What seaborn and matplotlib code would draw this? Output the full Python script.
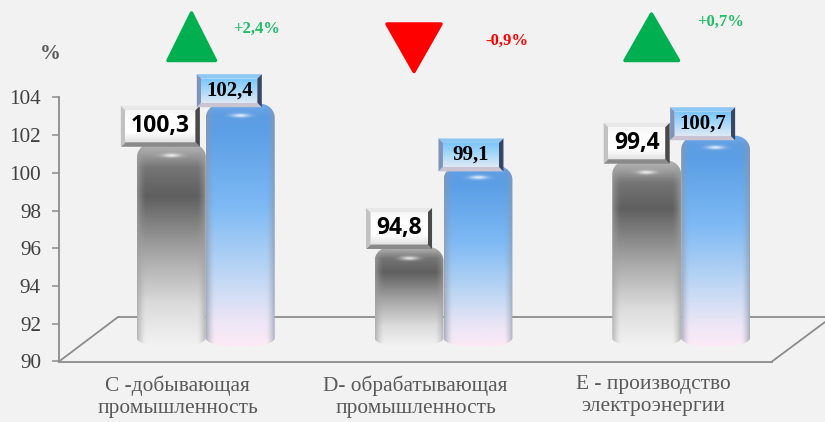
import numpy as np
import pandas as pd
import matplotlib
matplotlib.use("Agg")
import matplotlib.pyplot as plt
import seaborn as sns
from matplotlib.path import Path
from matplotlib.patches import Polygon
from matplotlib.colors import to_rgb

categories = ["С -добывающая\nпромышленность", "D- обрабатывающая\nпромышленность", "Е - производство\nэлектроэнергии"]
series_names = ["prev", "curr"]
prev_values = [100.3, 94.8, 99.4]
curr_values = [102.4, 99.1, 100.7]
prev_labels = ["100,3", "94,8", "99,4"]
curr_labels = ["102,4", "99,1", "100,7"]
delta_labels = ["+2,4%", "-0,9%", "+0,7%"]
y_ticks = [90, 92, 94, 96, 98, 100, 102, 104]

W, H = 825, 422
BG = "#f2f2f2"
AXC = "#8c8c8c"
TXT = "#595959"
SERIF = "Liberation Serif"

sns.set_theme(style="white", rc={"figure.facecolor": BG, "axes.facecolor": BG, "savefig.facecolor": BG})
fig = plt.figure(figsize=(W / 100, H / 100), dpi=100)

def px_axes(x0, x1, ytop, ybot):
    return fig.add_axes([x0 / W, 1 - ybot / H, (x1 - x0) / W, (ybot - ytop) / H])

# frame axis
ax = px_axes(59, 772, 97.5, 361.5)
ax.set_xlim(-0.5, 2.5)
ax.set_ylim(90, 104)
ax.set_yticks(y_ticks)
ax.set_yticklabels([str(v) for v in y_ticks], fontfamily=SERIF, fontsize=15.2, color="#404040")
ax.set_xticks([-0.5, 0.5, 1.5, 2.5])
ax.set_xticklabels([])
ax.set_xticks([0, 1, 2], minor=True)
ax.set_xticklabels(categories, minor=True, fontfamily=SERIF, fontsize=15.4, color=TXT, linespacing=1.2)
ax.tick_params(axis="x", which="minor", length=0, pad=10)
ax.tick_params(axis="x", which="major", length=4, width=1.1, color=AXC, direction="out")
ax.tick_params(axis="y", length=5, width=1.1, color=AXC, direction="out", pad=8, left=True)
for s in ["top", "right"]:
    ax.spines[s].set_visible(False)
for s in ["left", "bottom"]:
    ax.spines[s].set_color(AXC)
    ax.spines[s].set_linewidth(1.3)

# bars sit half way into the floor depth; the axes reach lower so the rounded feet show
px_x = (772 - 59) / 3
px_y = (361.5 - 97.5) / 14
LOW = 90 - 20 / px_y
LIFT = 24
bx = px_axes(59 + 28, 772 + 28, 97.5 - LIFT, 361.5 - LIFT + 20)
bx.patch.set_alpha(0)
df = pd.DataFrame({
    "category": categories * 2,
    "series": [series_names[0]] * 3 + [series_names[1]] * 3,
    "value": prev_values + curr_values,
})
sns.barplot(data=df, x="category", y="value", hue="series", order=categories, hue_order=series_names,
            width=0.58, gap=0, palette=["#808080", "#5b9be0"], legend=False, ax=bx, errorbar=None)
bx.set_ylim(LOW, 104)
bx.set_xlim(-0.5, 2.5)
bx.axis("off")

def stops(t, ts, cols):
    c = np.array([to_rgb(k) for k in cols])
    return np.stack([np.interp(t, ts, c[:, i]) for i in range(3)], axis=-1)

GRAY_T = [0, .05, .12, .26, .55, .8, 1]
GRAY_C = ["#b8b8b8", "#a0a0a0", "#757575", "#5f5f5f", "#a8a8a8", "#dcdcdc", "#f2f2f2"]
BLUE_T = [0, .05, .12, .42, .7, .9, 1]
BLUE_C = ["#6fa8e8", "#5e9de2", "#5c9fe6", "#7db9f4", "#bcd6f4", "#ede6f6", "#fceaf6"]

def draw_bar(patch, ts, cols, edge):
    x0, w, top = patch.get_x(), patch.get_width(), patch.get_height()
    rx, ry = 15 / px_x, 14 / px_y
    brx, bry = 24 / px_x, 8 / px_y
    base = 90 - 8.5 / px_y
    nh, nw = 260, 80
    t = np.linspace(0, 1, nh)[:, None]
    u = np.linspace(-1, 1, nw)[None, :]
    img = stops(np.repeat(t, nw, axis=1), ts, cols)
    shade = np.clip((np.abs(u) - 0.74) / 0.26, 0, 1) ** 1.6
    shade = np.repeat(shade, nh, axis=0)[..., None] * 0.7
    img = img * (1 - shade) + np.array(to_rgb(edge)) * shade
    hpx = (top - base) * px_y
    yy = t * hpx
    xx = u * 35
    glow = np.exp(-((xx / 9) ** 2) - ((yy - 12) / 1.9) ** 2)[..., None] * 0.8
    img = img * (1 - glow) + glow
    im = bx.imshow(img, extent=(x0, x0 + w, base, top), aspect="auto", origin="upper", zorder=3, interpolation="bilinear")
    k = 0.55
    verts = [
        (x0, base + bry), (x0, base + bry * (1 - k)), (x0 + brx * (1 - k), base), (x0 + brx, base),
        (x0 + w - brx, base),
        (x0 + w - brx * (1 - k), base), (x0 + w, base + bry * (1 - k)), (x0 + w, base + bry),
        (x0 + w, top - ry),
        (x0 + w, top - ry * (1 - k)), (x0 + w - rx * (1 - k), top), (x0 + w - rx, top),
        (x0 + rx, top),
        (x0 + rx * (1 - k), top), (x0, top - ry * (1 - k)), (x0, top - ry),
        (x0, base + bry),
    ]
    codes = [Path.MOVETO, Path.CURVE4, Path.CURVE4, Path.CURVE4, Path.LINETO,
             Path.CURVE4, Path.CURVE4, Path.CURVE4, Path.LINETO,
             Path.CURVE4, Path.CURVE4, Path.CURVE4, Path.LINETO,
             Path.CURVE4, Path.CURVE4, Path.CURVE4, Path.CLOSEPOLY]
    im.set_clip_path(Path(verts, codes), transform=bx.transData)
    patch.set_visible(False)

bars = list(bx.patches)
bar_prev, bar_curr = bars[:3], bars[3:6]
for p in bar_curr:
    draw_bar(p, BLUE_T, BLUE_C, "#8d98a8")
for p in bar_prev:
    draw_bar(p, GRAY_T, GRAY_C, "#a0a0a0")
bx.set_ylim(LOW, 104)
bx.set_xlim(-0.5, 2.5)

# overlay in pixels for the floor outline and the badges
ov = fig.add_axes([0, 0, 1, 1])
ov.set_xlim(0, W)
ov.set_ylim(H, 0)
ov.axis("off")
ov.patch.set_alpha(0)
floor = fig.add_axes([0, 0, 1, 1], zorder=0.5)
floor.set_xlim(0, W)
floor.set_ylim(H, 0)
floor.axis("off")
for xs, ys in [((59, 118), (361.5, 317)), ((118, 825), (317, 317)), ((772, 825), (361.5, 322))]:
    floor.plot(xs, ys, color=AXC, lw=1.3, solid_capstyle="round")
ax.set_zorder(0)
bx.set_zorder(1)
ov.set_zorder(2)

def badge(cx, cy, w, h, text, kind):
    x0, x1, y0, y1 = cx - w / 2, cx + w / 2, cy - h / 2, cy + h / 2
    b = 4.5
    n = 60
    t = np.linspace(0, 1, n)[:, None]
    if kind == "gray":
        face = stops(t, [0, .3, .7, 1], ["#f6f6f6", "#ffffff", "#ffffff", "#e4e4e4"])
        top, left, right, bot = "#e8e8e8", "#c2c2c2", "#4a4a4a", "#8a8a8a"
        fam, fs, weight = "Open Sans", 16.5, "bold"
    else:
        face = stops(t, [0, .45, 1], ["#7cc6fb", "#a6d8f9", "#dfe8f4"])
        top, left, right, bot = "#8dc8f4", "#7f93bb", "#364766", "#c9c3d2"
        fam, fs, weight = SERIF, 15, "bold"
    ov.add_patch(Polygon([(x0, y0), (x1, y0), (x1 - b, y0 + b), (x0 + b, y0 + b)], color=top, lw=0, zorder=5))
    ov.add_patch(Polygon([(x0, y1), (x1, y1), (x1 - b, y1 - b), (x0 + b, y1 - b)], color=bot, lw=0, zorder=5))
    ov.add_patch(Polygon([(x0, y0), (x0 + b, y0 + b), (x0 + b, y1 - b), (x0, y1)], color=left, lw=0, zorder=5))
    ov.add_patch(Polygon([(x1, y0), (x1 - b, y0 + b), (x1 - b, y1 - b), (x1, y1)], color=right, lw=0, zorder=5))
    ov.imshow(face, extent=(x0 + b, x1 - b, y1 - b, y0 + b), aspect="auto", zorder=5, interpolation="bilinear")
    ov.text(cx, cy - 0.5, text, ha="center", va="center", fontfamily=fam, fontsize=fs, fontweight=weight,
            color="black", zorder=6)

def anchor(patch):
    d = bx.transData.transform((patch.get_x() + patch.get_width() / 2, patch.get_height()))
    return d[0], H - d[1]

prev_shift = [(-11, -17, 79), (-10, -18.5, 66), (-10, -17, 66)]
curr_shift = [(-11, -13, 65), (-7, -11, 65), (-13, -12, 65)]
for p, lab, (dx, dy, w) in zip(bar_prev, prev_labels, prev_shift):
    cx, cy = anchor(p)
    badge(cx + dx, cy + dy, w, 41, lab, "gray")
for p, lab, (dx, dy, w) in zip(bar_curr, curr_labels, curr_shift):
    cx, cy = anchor(p)
    badge(cx + dx, cy + dy, w, 33, lab, "blue")

GREEN, RED = "#00b050", "#ff0000"
marks = [
    ([(191.5, 13), (168, 60.5), (215.5, 60.5)], GREEN, 256.5, 29, "#1fbf68"),
    ([(387, 24), (441, 24), (414, 71.5)], RED, 506.5, 41, "#ff0000"),
    ([(651.5, 14), (625, 60.5), (678.5, 60.5)], GREEN, 720.5, 22, "#1fbf68"),
]
for (tri, col, tx, ty, tc), lab in zip(marks, delta_labels):
    ov.add_patch(Polygon(tri, closed=True, facecolor=col, edgecolor=col, lw=2.5, joinstyle="round", zorder=4))
    ov.text(tx, ty, lab, ha="center", va="center", fontfamily=SERIF, fontweight="bold", fontsize=12, color=tc, zorder=4)
ov.text(50, 54, "%", ha="center", va="center", fontfamily=SERIF, fontweight="bold", fontsize=15, color=TXT)
ov.set_xlim(0, W)
ov.set_ylim(H, 0)

fig.savefig("out.png", dpi=100)
